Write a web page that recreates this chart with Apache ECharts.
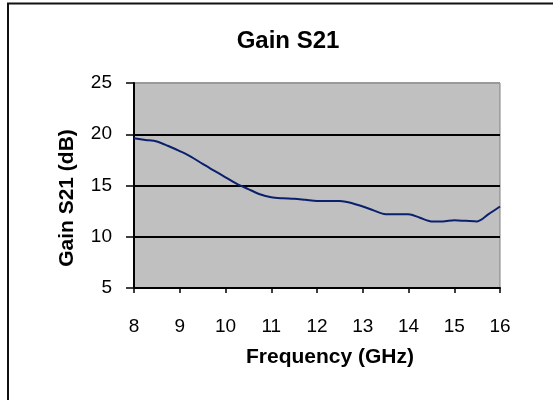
<!DOCTYPE html>
<html>
<head>
<meta charset="utf-8">
<script src="https://cdn.jsdelivr.net/npm/echarts@6/dist/echarts.min.js"></script>
<style>
html,body{margin:0;padding:0;background:#fff;}
#c{width:553px;height:400px;}
</style>
</head>
<body>
<div id="c"></div>
<script>
const frequency = [8, 8.25, 8.5, 8.75, 9, 9.25, 9.5, 9.75, 10, 10.25, 10.5, 10.75, 11, 11.25, 11.5, 11.75, 12, 12.25, 12.5, 12.75, 13, 13.25, 13.5, 13.75, 14, 14.25, 14.5, 14.75, 15, 15.25, 15.5, 15.75, 16];
const gainS21 = [19.6, 19.45, 19.3, 18.85, 18.35, 17.8, 17.1, 16.45, 15.8, 15.15, 14.65, 14.15, 13.85, 13.75, 13.7, 13.6, 13.5, 13.5, 13.5, 13.3, 12.95, 12.55, 12.2, 12.2, 12.2, 11.85, 11.5, 11.5, 11.6, 11.55, 11.5, 12.2, 12.95];
const titleText = 'Gain S21';
const xTitle = 'Frequency (GHz)';
const yTitle = 'Gain S21 (dB)';

const chart = echarts.init(document.getElementById('c'));
const font = '"Liberation Sans", Arial, sans-serif';
chart.setOption({
  animation: false,
  backgroundColor: '#fff',
  title: {
    text: titleText,
    left: 288, top: 29, textAlign: 'center', padding: 0,
    textStyle: {fontFamily: font, fontSize: 24, fontWeight: 'bold', color: '#000'}
  },
  grid: {
    left: 134, right: 53, top: 83, bottom: 112,
    show: true, backgroundColor: '#c0c0c0', borderColor: '#808080', borderWidth: 1
  },
  xAxis: {
    type: 'value', min: 8, max: 16, interval: 1,
    axisLine: {show: true, lineStyle: {color: '#000', width: 2}},
    axisTick: {show: true, length: 5, lineStyle: {color: '#000', width: 1.5}},
    axisLabel: {margin: 29, fontFamily: font, fontSize: 19, color: '#000'},
    splitLine: {show: false}
  },
  yAxis: {
    type: 'value', min: 5, max: 25, interval: 5,
    axisLine: {show: true, lineStyle: {color: '#000', width: 2}},
    axisTick: {show: true, length: 8, lineStyle: {color: '#000', width: 1.5}},
    axisLabel: {margin: 22, fontFamily: font, fontSize: 19, color: '#000'},
    splitLine: {show: true, lineStyle: {color: ['#000', '#000', '#000', '#000', '#9a9a9a'], width: 2}}
  },
  graphic: [
    {type: 'rect', shape: {x: 8, y: 3.5, width: 600, height: 500}, style: {fill: 'none', stroke: '#111', lineWidth: 2}, z: 100},
    {type: 'text', x: 67, y: 198, rotation: Math.PI / 2, style: {text: yTitle, font: 'bold 21px ' + font, fill: '#000', textAlign: 'center', textVerticalAlign: 'middle'}},
    {type: 'text', x: 330, y: 357, style: {text: xTitle, font: 'bold 21px ' + font, fill: '#000', textAlign: 'center', textVerticalAlign: 'middle'}}
  ],
  series: [{
    type: 'line',
    data: frequency.map((f, i) => [f, gainS21[i]]),
    showSymbol: false,
    smooth: 0.3,
    lineStyle: {color: '#0a1f6e', width: 2},
    z: 5
  }]
});
</script>
</body>
</html>
